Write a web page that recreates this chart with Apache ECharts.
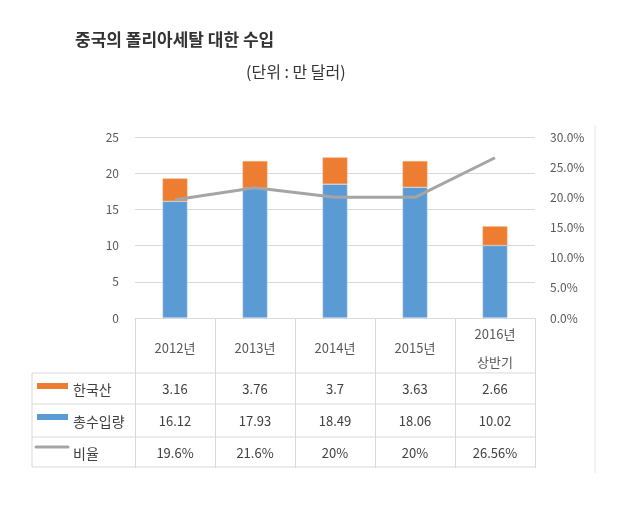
<!DOCTYPE html>
<html><head><meta charset="utf-8">
<script src="https://cdn.jsdelivr.net/npm/echarts@6/dist/echarts.min.js"></script>
<style>html,body{margin:0;padding:0;background:#fff}#c{width:618px;height:507px}</style>
</head><body><div id="c"></div>
<script>
var categories = ['2012년', '2013년', '2014년', '2015년', '2016년\n상반기'];
var korea = [3.16, 3.76, 3.7, 3.63, 2.66];
var total = [16.12, 17.93, 18.49, 18.06, 10.02];
var ratio = [19.6, 21.6, 20, 20, 26.56];
var ratioLabels = ['19.6%', '21.6%', '20%', '20%', '26.56%'];
var seriesNames = ['한국산', '총수입량', '비율'];
var colors = ['#ED7D31', '#5B9BD5', '#A5A5A5'];
var FONT = "'Noto Sans CJK KR', 'Noto Sans', sans-serif";

var chart = echarts.init(document.getElementById('c'));
var option = {
  animation: false,
  textStyle: {fontFamily: FONT},
  title: [
    {text: '중국의 폴리아세탈 대한 수입', left: 75, top: 31, padding: 0,
     textStyle: {fontSize: 17, fontWeight: 'bold', color: '#333', fontFamily: FONT}},
    {text: '(단위 : 만 달러)', left: 246, top: 64, padding: 0,
     textStyle: {fontSize: 16, fontWeight: 'normal', color: '#333', fontFamily: FONT}}
  ],
  grid: {left: 135, right: 83, top: 137, bottom: 189, containLabel: false},
  xAxis: {
    type: 'category', data: categories,
    axisLine: {lineStyle: {color: '#d9d9d9', width: 1}},
    axisTick: {show: true, length: 150, lineStyle: {color: '#d9d9d9'}},
    axisLabel: {color: '#595959', fontSize: 13, margin: 30, verticalAlign: 'middle', lineHeight: 28, fontFamily: FONT}
  },
  yAxis: [
    {type: 'value', min: 0, max: 25, interval: 5,
     axisLine: {show: false}, axisTick: {show: false},
     axisLabel: {color: '#595959', fontSize: 12, margin: 16, fontFamily: FONT},
     splitLine: {lineStyle: {color: '#d9d9d9'}}},
    {type: 'value', min: 0, max: 30, interval: 5,
     axisLine: {show: false}, axisTick: {show: false},
     axisLabel: {color: '#595959', fontSize: 12, margin: 15, fontFamily: FONT,
       formatter: function (v) { return v.toFixed(1) + '%'; }},
     splitLine: {show: false}}
  ],
  series: [
    {name: seriesNames[1], type: 'bar', stack: 's', data: total, barWidth: 25,
     itemStyle: {color: colors[1], borderColor: '#cfe0f2', borderWidth: 0.5}},
    {name: seriesNames[0], type: 'bar', stack: 's', data: korea, barWidth: 25,
     itemStyle: {color: colors[0], borderColor: '#f6c3a0', borderWidth: 0.5}},
    {name: seriesNames[2], type: 'line', yAxisIndex: 1, data: ratio, symbol: 'none',
     lineStyle: {color: colors[2], width: 3}, itemStyle: {color: colors[2]}}
  ]
};
chart.setOption(option);

// Build the data table below the chart from the arrays
var rows = [korea.map(String), total.map(String), ratioLabels];
var xL = 32, xR = 535;
var lineYs = [373, 404, 437, 467];
var rowCenters = [389, 421, 453];
var g = [];
var lc = '#d9d9d9';
lineYs.forEach(function (y) {
  g.push({type: 'line', shape: {x1: xL, y1: y, x2: xR, y2: y}, style: {stroke: lc, lineWidth: 1}, z: 10});
});
g.push({type: 'line', shape: {x1: xL, y1: lineYs[0], x2: xL, y2: lineYs[3]}, style: {stroke: lc, lineWidth: 1}, z: 10});
g.push({type: 'line', shape: {x1: 595, y1: 125, x2: 595, y2: 473}, style: {stroke: '#e6e6e6', lineWidth: 1}, z: 10});
// legend keys
g.push({type: 'rect', shape: {x: 37, y: 383, width: 31, height: 6}, style: {fill: colors[0]}, z: 10});
g.push({type: 'rect', shape: {x: 37, y: 414, width: 31, height: 6}, style: {fill: colors[1]}, z: 10});
g.push({type: 'line', shape: {x1: 36, y1: 447, x2: 68, y2: 447}, style: {stroke: colors[2], lineWidth: 3, lineCap: 'round'}, z: 10});
seriesNames.forEach(function (n, i) {
  g.push({type: 'text', x: 73, y: rowCenters[i] + 1, style: {text: n, fill: '#404040', font: '14px ' + FONT, textVerticalAlign: 'middle', textAlign: 'left'}, z: 10});
});
rows.forEach(function (r, i) {
  r.forEach(function (v, j) {
    var cx = chart.convertToPixel({xAxisIndex: 0}, j);
    g.push({type: 'text', x: cx, y: rowCenters[i], style: {text: v, fill: '#404040', font: '13px ' + FONT, textAlign: 'center', textVerticalAlign: 'middle'}, z: 10});
  });
});
chart.setOption({graphic: g});
</script></body></html>
